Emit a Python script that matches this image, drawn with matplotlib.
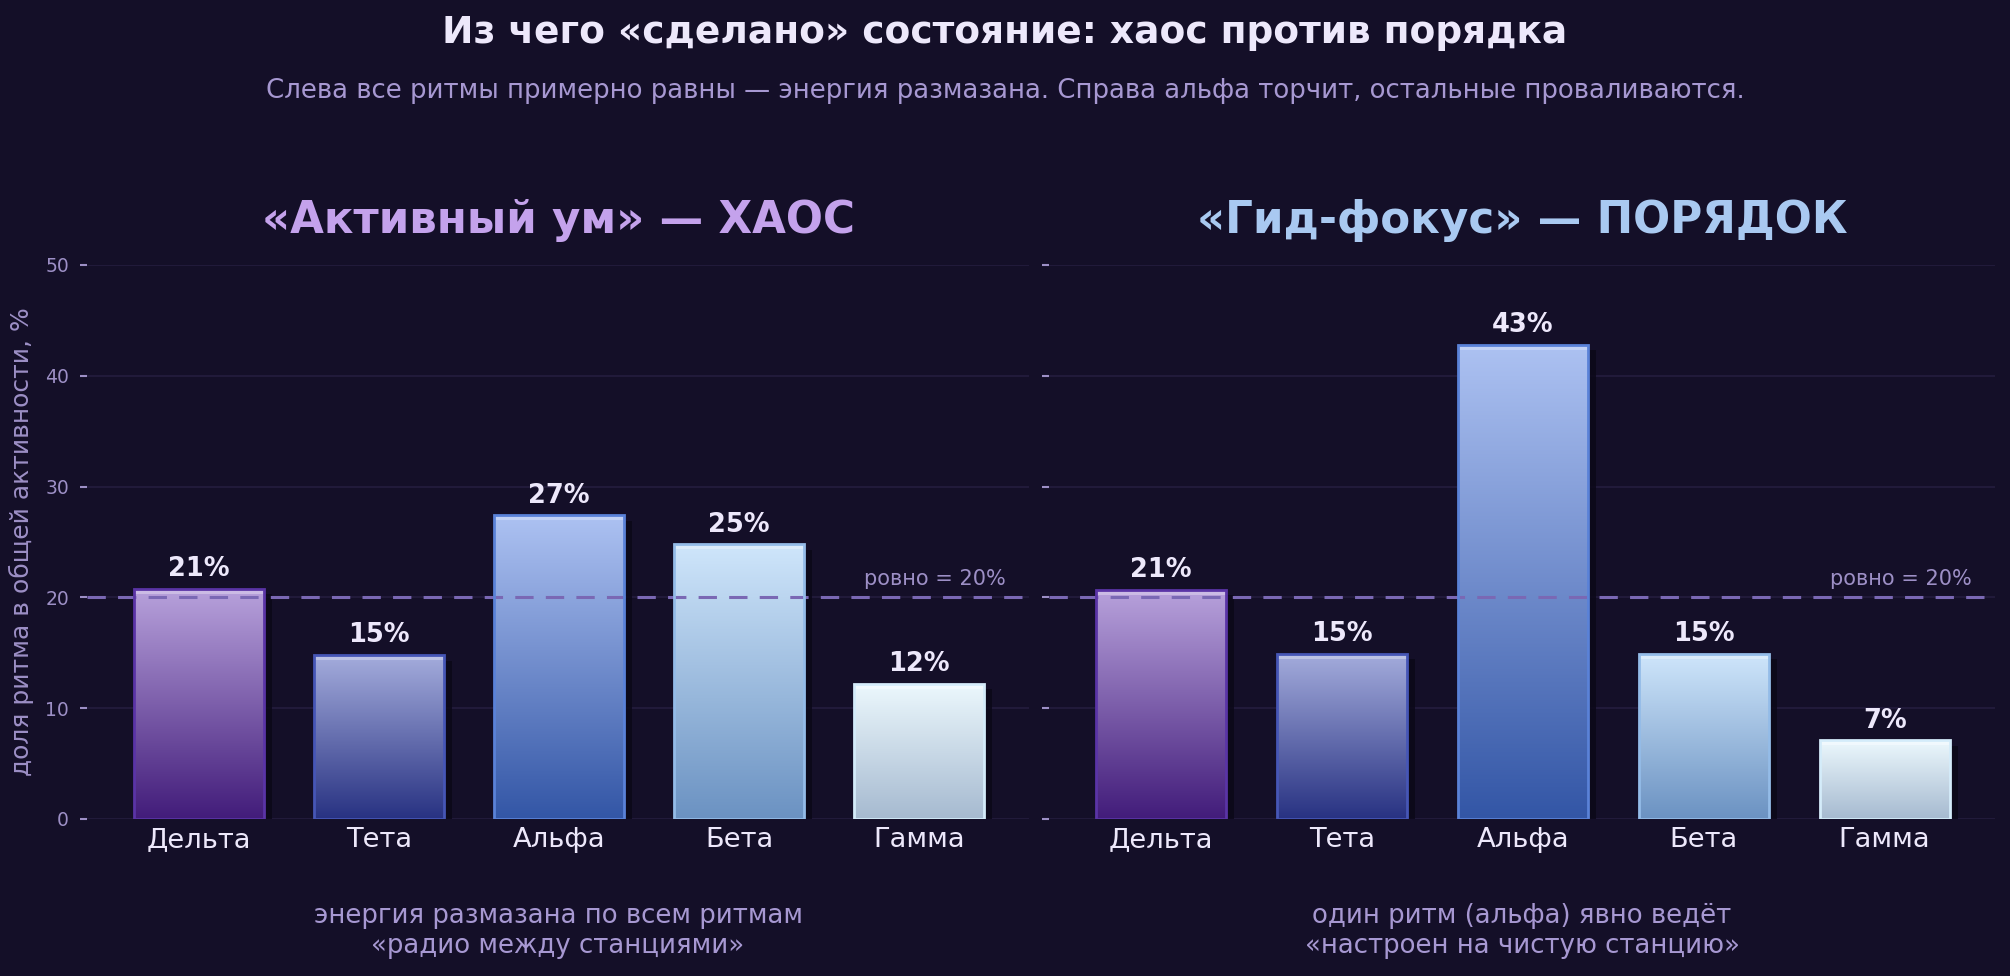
import matplotlib
matplotlib.use("Agg")
import matplotlib.pyplot as plt
import numpy as np
from matplotlib.colors import LinearSegmentedColormap, to_rgb
from matplotlib.patches import Rectangle
import matplotlib.transforms as mtransforms

# ---------------- data ----------------
rhythms = ["Дельта", "Тета", "Альфа", "Бета", "Гамма"]
chaos_values = [20.8, 14.8, 27.4, 24.8, 12.2]
order_values = [20.7, 14.9, 42.8, 14.9, 7.1]
even_level = 20
yticks = [0, 10, 20, 30, 40, 50]

title = "Из чего «сделано» состояние: хаос против порядка"
subtitle = "Слева все ритмы примерно равны — энергия размазана. Справа альфа торчит, остальные проваливаются."
left_title = "«Активный ум» — ХАОС"
right_title = "«Гид-фокус» — ПОРЯДОК"
left_note = "энергия размазана по всем ритмам\n«радио между станциями»"
right_note = "один ритм (альфа) явно ведёт\n«настроен на чистую станцию»"
ylabel = "доля ритма в общей активности, %"
even_label = "ровно = 20%"

# ---------------- style ----------------
BG = "#140f28"
GRID = "#241d3e"
MUTED = "#9d8fc6"
TEXT = "#ede8fb"
bar_styles = [
    ("#b8a2dc", "#421c7a", "#5a34a6"),
    ("#a4acdc", "#283282", "#4656b6"),
    ("#adc2f2", "#3356a6", "#5a82d8"),
    ("#cfe6fb", "#6b92c2", "#94bce8"),
    ("#ecf8fd", "#a6bad0", "#d4ecfa"),
]
W = 0.72

fig = plt.figure(figsize=(20.10, 9.76), dpi=100, facecolor=BG)

ax_l = fig.add_axes([87 / 2010, 1 - 819 / 976, (1029 - 87) / 2010, (819 - 265) / 976])
ax_r = fig.add_axes([1049 / 2010, 1 - 819 / 976, (1995 - 1049) / 2010, (819 - 265) / 976])


def lighten(c, f):
    r = np.array(to_rgb(c))
    return tuple(r + (1 - r) * f)


def draw_panel(ax, values, ptitle, ptitle_color, note, show_labels):
    ax.set_facecolor(BG)
    x = np.arange(len(rhythms))
    for i, (xi, v) in enumerate(zip(x, values)):
        top, bot, edge = bar_styles[i]
        # shadow
        ax.bar(xi + 0.045, v - 0.5, width=W, color="#0b0818", alpha=0.85,
               zorder=2, linewidth=0)
        # gradient
        cmap = LinearSegmentedColormap.from_list(f"g{i}", [bot, top])
        grad = np.linspace(0, 1, 256).reshape(-1, 1)
        im = ax.imshow(grad, extent=[xi - W / 2, xi + W / 2, 0, v], origin="lower",
                       aspect="auto", cmap=cmap, zorder=3, interpolation="bilinear")
        rect = Rectangle((xi - W / 2, 0), W, v, transform=ax.transData,
                         facecolor="none")
        im.set_clip_path(rect)
        # top highlight
        ax.bar(xi, 0.4, bottom=v - 0.45, width=W, color=lighten(top, 0.35),
               alpha=0.8, zorder=4, linewidth=0)
        # edge
        ax.bar(xi, v, width=W, facecolor="none", edgecolor=edge, linewidth=2,
               zorder=5)
        ax.text(xi, v + 0.6, f"{v:.0f}%", ha="center", va="bottom", color=TEXT,
                fontsize=18.5, fontweight="bold", zorder=6)

    ax.axhline(even_level, color="#7a68b4", linestyle=(0, (6, 4)), linewidth=2.2,
               zorder=4)
    trans = mtransforms.blended_transform_factory(ax.transAxes, ax.transData)
    ax.text(0.975, even_level + 0.8, even_label, transform=trans, ha="right",
            va="bottom", color=MUTED, fontsize=15)

    ax.set_xlim(-0.62, 4.61)
    ax.set_ylim(0, 50)
    ax.set_yticks(yticks)
    ax.set_xticks(x)
    ax.set_xticklabels(rhythms, color=TEXT, fontsize=19.7)
    ax.tick_params(axis="x", length=0, pad=6)
    ax.tick_params(axis="y", length=5, width=1.5, color=MUTED, labelcolor=MUTED,
                   labelsize=13.5, pad=8, labelleft=show_labels)
    ax.grid(axis="y", color=GRID, linewidth=1.2, zorder=0)
    ax.set_axisbelow(True)
    for s in ax.spines.values():
        s.set_visible(False)
    ax.text(0.5, 1.081, ptitle, transform=ax.transAxes, ha="center", va="center",
            color=ptitle_color, fontsize=31.4, fontweight="bold")
    ax.text(0.5, -0.203, note, transform=ax.transAxes, ha="center", va="center",
            color="#a798d2", fontsize=18.7, linespacing=1.2)


draw_panel(ax_l, chaos_values, left_title, "#c4a2ec", left_note, True)
draw_panel(ax_r, order_values, right_title, "#a9c9f1", right_note, False)

ax_l.set_ylabel(ylabel, color=MUTED, fontsize=18)
ax_l.yaxis.set_label_coords(-0.056, 0.5)

fig.text(0.5, 1 - 33 / 976, title, ha="center", va="center", color=TEXT,
         fontsize=27, fontweight="bold")
fig.text(0.5, 1 - 91 / 976, subtitle, ha="center", va="center", color="#a798d2",
         fontsize=18.7)

fig.savefig("out.png", dpi=100, facecolor=BG)
